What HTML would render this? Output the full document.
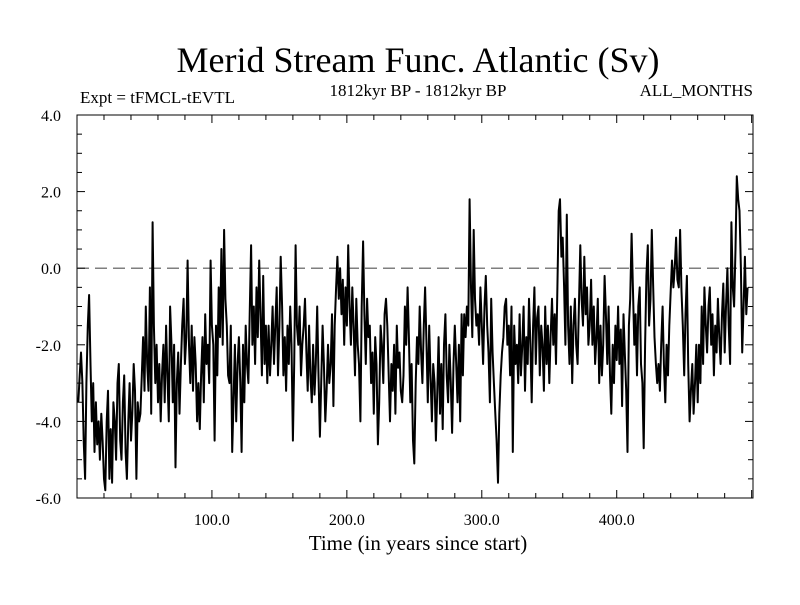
<!DOCTYPE html>
<html><head><meta charset="utf-8"><style>
body{margin:0;background:#fff}
svg text{font-family:"Liberation Serif",serif;fill:#000}
</style></head><body>
<svg id="chart" width="800" height="600" xmlns="http://www.w3.org/2000/svg">
<text x="418" y="72" font-size="36" text-anchor="middle">Merid Stream Func. Atlantic (Sv)</text>
<text x="80" y="103" font-size="17">Expt = tFMCL-tEVTL</text>
<text x="418" y="96" font-size="17" text-anchor="middle">1812kyr BP - 1812kyr BP</text>
<text x="753" y="96" font-size="17" text-anchor="end">ALL_MONTHS</text>
<text x="418" y="550" font-size="21" text-anchor="middle">Time (in years since start)</text>
<g id="axes"></g>
<g id="series"></g>
</svg>
<script>
const yTicks=[4,2,0,-2,-4,-6];
const yTickLabels=["4.0","2.0","0.0","-2.0","-4.0","-6.0"];
const xTicks=[100,200,300,400];
const xTickLabels=["100.0","200.0","300.0","400.0"];
const values=[
-3.5,-2.8,-2.2,-3.0,-4.5,-5.5,-3.0,-1.5,-0.7,-2.5,
-4.0,-3.0,-4.8,-3.5,-4.6,-4.0,-5.0,-3.8,-4.5,-5.5,
-5.8,-4.0,-3.2,-5.5,-4.2,-5.6,-3.5,-4.0,-5.0,-3.0,
-2.5,-4.5,-5.0,-3.5,-2.8,-4.8,-5.5,-4.0,-3.0,-4.5,
-3.8,-2.5,-3.2,-5.5,-3.5,-4.0,-3.8,-2.8,-1.8,-3.2,
-1.0,-2.5,-3.2,-0.5,-3.8,1.2,-1.5,-3.0,-2.0,-3.5,
-2.5,-4.0,-2.8,-2.0,-3.5,-1.5,-2.8,-4.0,-1.0,-2.0,
-3.5,-2.0,-5.2,-3.0,-2.2,-3.8,-2.5,-1.5,-0.8,-2.5,
-1.8,0.2,-2.0,-3.0,-1.5,-3.2,-1.8,-2.5,-4.0,-3.0,
-4.2,-2.8,-1.8,-3.5,-1.2,-2.5,-2.0,-3.0,0.2,-1.5,
-2.0,-4.5,-1.5,-2.8,-0.5,-1.8,0.5,-2.0,1.0,-0.8,
-1.5,-2.8,-3.0,-1.5,-4.8,-3.5,-2.0,-4.0,-2.5,-1.8,
-3.0,-4.8,-2.0,-3.5,-1.5,-2.5,-3.0,-1.2,0.6,-2.0,
-1.0,-2.5,-0.5,-1.8,0.2,-1.2,-2.8,-0.2,-2.5,-1.5,
-3.0,-1.5,-2.8,-2.0,-1.0,-2.5,-1.5,-0.5,-2.8,-1.5,
0.3,-1.0,-2.8,-1.8,-3.2,-1.5,-2.5,-1.0,-2.0,-4.5,
-2.5,0.6,-1.5,-2.0,-1.0,-2.8,-2.0,-1.5,-0.8,-2.2,
-3.2,-1.5,-2.8,-3.5,-2.0,-3.3,-2.5,-1.0,-2.8,-4.4,
-3.0,-1.5,-2.5,-4.0,-3.2,-2.0,-3.0,-2.5,-1.2,-3.6,
-1.5,-0.5,0.3,-0.8,0.0,-1.2,-0.3,-2.0,-0.5,-1.5,
0.6,-1.0,-2.0,-0.5,-1.5,-2.8,-0.8,-2.0,-2.5,-4.0,
-1.0,0.7,-1.2,-2.5,-0.8,-1.8,-1.5,-3.0,-2.2,-3.8,
-1.8,-2.5,-4.6,-3.5,-1.5,-2.0,-3.0,-1.2,-0.8,-1.5,
-2.8,-4.0,-2.5,-3.2,-2.0,-3.8,-1.5,-2.6,-2.2,-3.2,
-3.5,-2.8,-1.0,-2.0,-0.5,-1.8,-3.5,-2.5,-4.5,-5.1,
-3.0,-1.8,-2.5,-1.0,-2.2,-3.0,-1.5,-0.5,-2.0,-3.5,
-1.5,-2.8,-4.0,-2.5,-3.0,-4.5,-3.2,-1.8,-3.8,-2.5,
-4.2,-2.0,-1.2,-2.8,-3.5,-2.0,-3.0,-4.3,-2.5,-1.5,
-2.5,-3.5,-2.0,-4.0,-1.2,-2.8,-1.2,-1.8,-1.0,-1.5,
1.8,-0.5,-1.8,1.0,-0.8,-1.5,-1.2,-2.0,-0.5,-1.5,
-2.5,-1.0,-0.2,-1.5,-2.2,-3.5,-0.8,-2.2,-3.0,-3.8,
-4.5,-5.6,-3.8,-2.8,-2.2,-1.8,-1.0,-0.8,-2.0,-1.5,
-2.8,-1.0,-4.8,-1.5,-2.5,-2.0,-3.0,-1.2,-2.8,-2.0,
-1.0,-3.2,-1.8,-2.5,-0.8,-2.0,-3.5,-1.5,-0.5,-2.5,
-1.3,-1.0,-2.8,-1.5,-2.0,-3.2,-1.0,-2.5,-1.5,-3.0,
-1.8,-0.8,-2.0,-1.2,-2.5,-0.5,1.5,1.8,0.3,0.8,
-0.5,-2.0,1.4,-1.5,-2.5,-1.0,-3.0,-1.5,-0.8,-2.0,
-2.5,-1.0,0.6,-0.8,-1.5,0.3,-1.2,-0.5,-2.0,-1.5,
-0.3,-2.0,-1.0,-2.5,-1.8,-0.8,-3.0,-1.5,-2.8,-2.0,
-0.2,-1.2,-2.5,-1.0,-2.8,-3.8,-2.0,-3.0,-1.5,-2.4,
-1.0,-2.5,-1.6,-3.6,-1.2,-2.2,-3.2,-4.8,-1.5,-0.8,
0.9,-0.5,-2.0,-1.2,-2.8,-1.0,-0.5,-2.5,-3.0,-4.7,
-2.0,-0.2,0.6,-1.5,-0.8,1.0,-0.5,-1.8,-2.5,-3.0,
-2.5,-3.2,-2.0,-1.0,-2.5,-3.5,-2.0,-2.8,-1.5,-0.6,
0.2,-0.5,0.0,0.8,-0.3,-0.5,1.0,-0.6,-1.5,-2.8,
-1.2,-0.2,-2.5,-4.0,-3.2,-2.5,-3.8,-3.0,-2.0,-3.5,
-2.0,-3.0,-1.0,-2.5,-0.5,-1.5,-2.2,-1.0,-0.5,-2.0,
-1.2,-2.8,-1.5,-2.2,-0.8,-1.8,-2.5,-1.2,-0.4,-2.2,
-1.0,0.0,-1.5,-2.5,1.2,-0.5,-1.0,0.5,2.4,1.8,
1.5,0.0,-2.2,-1.0,0.3,-1.2,-0.5
];
const L=77,R=753,T=115,B=498,X0=0,X1=501,Y0=-6,Y1=4;
const sx=v=>L+(v-X0)/(X1-X0)*(R-L);
const sy=v=>B-(v-Y0)/(Y1-Y0)*(B-T);
const NS="http://www.w3.org/2000/svg";
function mk(tag,attrs,parent){const e=document.createElementNS(NS,tag);for(const k in attrs)e.setAttribute(k,attrs[k]);parent.appendChild(e);return e;}
const axes=document.getElementById('axes');
const frame=mk('rect',{x:L,y:T,width:R-L,height:B-T,fill:'none',stroke:'#000','stroke-width':1},axes);


const zl=mk('line',{x1:L,x2:R,y1:sy(0),y2:sy(0),stroke:'#555','stroke-width':1.2,'stroke-dasharray':'12,6'},axes);


for(let v=Y0;v<=Y1+1e-9;v+=0.5){const maj=Math.abs(v-Math.round(v/2)*2)<1e-9;const len=maj?8:5;
mk('line',{x1:L,x2:L+len,y1:sy(v),y2:sy(v),stroke:'#000'},axes);
mk('line',{x1:R-len,x2:R,y1:sy(v),y2:sy(v),stroke:'#000'},axes);}
for(let v=20;v<X1;v+=20){const maj=v%100===0;const len=maj?8:5;
mk('line',{x1:sx(v),x2:sx(v),y1:B,y2:B-len,stroke:'#000'},axes);
mk('line',{x1:sx(v),x2:sx(v),y1:T,y2:T+len,stroke:'#000'},axes);}
yTicks.forEach((v,i)=>{const t=mk('text',{x:L-16,y:sy(v)+6,'font-size':16,'text-anchor':'end'},axes);t.textContent=yTickLabels[i];

});
xTicks.forEach((v,i)=>{const t=mk('text',{x:sx(v),y:B+27,'font-size':16,'text-anchor':'middle'},axes);t.textContent=xTickLabels[i];

});
const series=document.getElementById('series');
const pts=values.map((v,i)=>sx(i+1).toFixed(1)+','+sy(v).toFixed(1)).join(' ');
const pl=mk('polyline',{points:pts,fill:'none',stroke:'#000','stroke-width':2,'stroke-linejoin':'round'},series);


</script>
</body></html>
